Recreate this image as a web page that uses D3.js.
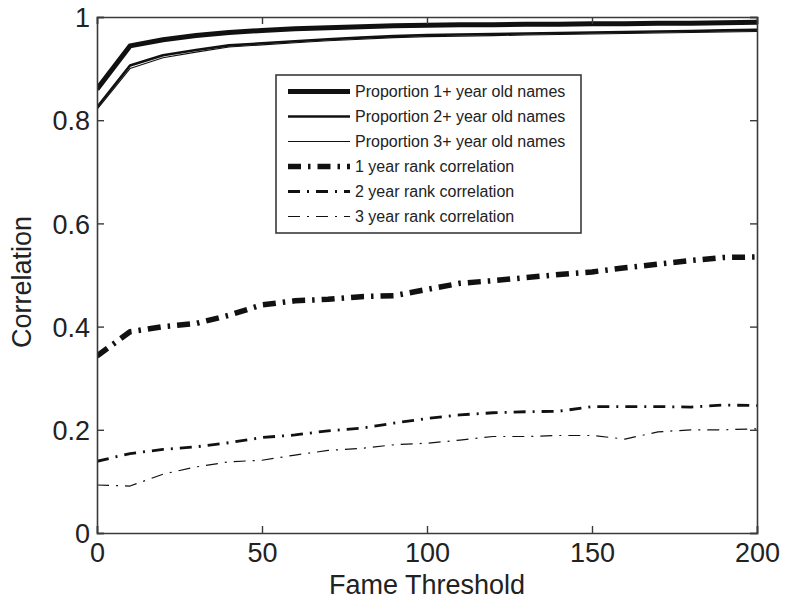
<!DOCTYPE html>
<html>
<head>
<meta charset="utf-8">
<script src="https://cdn.jsdelivr.net/npm/d3@7"></script>
<style>
  html, body { margin: 0; padding: 0; background: #fff; }
  svg { display: block; }
  text { font-family: "Liberation Sans", Arial, sans-serif; fill: #222; }
</style>
</head>
<body>
<svg id="chart" width="785" height="606"></svg>
<script>
// ---- data ----
const fameThreshold = [0,10,20,30,40,50,60,70,80,90,100,110,120,130,140,150,160,170,180,190,200];
const prop1 = [0.860,0.944,0.956,0.964,0.970,0.974,0.977,0.979,0.981,0.983,0.984,0.985,0.985,0.986,0.986,0.987,0.987,0.988,0.988,0.989,0.990];
const prop2 = [0.825,0.906,0.926,0.936,0.945,0.949,0.953,0.957,0.960,0.963,0.965,0.966,0.967,0.968,0.969,0.970,0.971,0.972,0.973,0.974,0.975];
const prop3 = [0.821,0.900,0.921,0.932,0.942,0.946,0.950,0.954,0.957,0.960,0.962,0.963,0.964,0.965,0.966,0.967,0.968,0.969,0.970,0.971,0.972];
const rank1 = [0.343,0.390,0.400,0.406,0.422,0.442,0.450,0.453,0.458,0.460,0.472,0.484,0.489,0.495,0.501,0.506,0.514,0.521,0.528,0.534,0.535];
const rank2 = [0.139,0.154,0.162,0.167,0.175,0.185,0.190,0.198,0.203,0.213,0.222,0.229,0.233,0.235,0.236,0.245,0.245,0.245,0.244,0.248,0.247];
const rank3 = [0.093,0.091,0.114,0.128,0.138,0.141,0.151,0.160,0.164,0.171,0.174,0.180,0.187,0.187,0.189,0.189,0.182,0.196,0.200,0.200,0.202];
const seriesNames = ["Proportion 1+ year old names","Proportion 2+ year old names","Proportion 3+ year old names",
                     "1 year rank correlation","2 year rank correlation","3 year rank correlation"];
const xTicks = [0,50,100,150,200];
const yTicks = [0,0.2,0.4,0.6,0.8,1];
const xLabel = "Fame Threshold";
const yLabel = "Correlation";

// ---- styles ----
const styles = [
  {w:5,   dash:null},
  {w:2.6, dash:null},
  {w:1.1, dash:null},
  {w:5.5, dash:"13,7,2.5,7"},
  {w:2.8, dash:"12,7,2,7"},
  {w:1.2, dash:"12,7,2,7"}
];
const values = [prop1,prop2,prop3,rank1,rank2,rank3];

const svg = d3.select("#chart");
const L = 97, R = 757, T = 17, B = 533;
const x = d3.scaleLinear().domain([0,200]).range([L,R]);
const y = d3.scaleLinear().domain([0,1]).range([B,T]);
const axisColor = "#3a3a3a";

// clip
svg.append("defs").append("clipPath").attr("id","clip")
  .append("rect").attr("x",L).attr("y",T).attr("width",R-L).attr("height",B-T);

// lines
const line = d3.line().x((d,i)=>x(fameThreshold[i])).y(d=>y(d));
const g = svg.append("g").attr("clip-path","url(#clip)");
values.forEach((v,k)=>{
  g.append("path").datum(v).attr("d",line)
    .attr("fill","none").attr("stroke","#111")
    .attr("stroke-width",styles[k].w)
    .attr("stroke-linejoin","round")
    .attr("stroke-dasharray",styles[k].dash);
});

// axes (box with inner ticks on all sides)
const tickLen = 7;
const fontSize = 27;
const axB = svg.append("g").attr("transform",`translate(0,${B})`)
  .call(d3.axisBottom(x).tickValues(xTicks).tickSize(-tickLen).tickPadding(10).tickFormat(d3.format("d")));
const axT = svg.append("g").attr("transform",`translate(0,${T})`)
  .call(d3.axisTop(x).tickValues(xTicks).tickSize(-tickLen).tickFormat(""));
const axL = svg.append("g").attr("transform",`translate(${L},0)`)
  .call(d3.axisLeft(y).tickValues(yTicks).tickSize(-tickLen).tickPadding(7).tickFormat(d=>d===0||d===1?d3.format("d")(d):d3.format(".1f")(d)));
const axR = svg.append("g").attr("transform",`translate(${R},0)`)
  .call(d3.axisRight(y).tickValues(yTicks).tickSize(-tickLen).tickFormat(""));
[axB,axT,axL,axR].forEach(a=>{
  a.select(".domain").attr("stroke",axisColor).attr("stroke-width",1.6);
  a.selectAll(".tick line").attr("stroke",axisColor).attr("stroke-width",1.4);
  a.selectAll(".tick text").attr("font-size",fontSize).attr("fill","#222")
    .attr("font-family","'Liberation Sans', Arial, sans-serif");
});
axB.selectAll(".tick text").attr("dy","0.72em");
axL.selectAll(".tick text").attr("dy","0.36em");

// axis labels
svg.append("text").attr("x",(L+R)/2).attr("y",594).attr("text-anchor","middle")
  .attr("font-size",fontSize).text(xLabel);
svg.append("text").attr("transform",`translate(31,${(T+B)/2+7}) rotate(-90)`)
  .attr("text-anchor","middle").attr("font-size",fontSize).text(yLabel);

// legend
const lg = svg.append("g");
lg.append("rect").attr("x",276).attr("y",75).attr("width",305).attr("height",158)
  .attr("fill","#fff").attr("stroke",axisColor).attr("stroke-width",1.6);
seriesNames.forEach((name,k)=>{
  const yy = 91.5 + k*25;
  lg.append("line").attr("x1",288).attr("x2",350).attr("y1",yy).attr("y2",yy)
    .attr("stroke","#111").attr("stroke-width",styles[k].w)
    .attr("stroke-dasharray",styles[k].dash);
  lg.append("text").attr("x",355).attr("y",yy+5.8).attr("font-size",16).attr("fill","#333").text(name);
});
</script>
</body>
</html>
